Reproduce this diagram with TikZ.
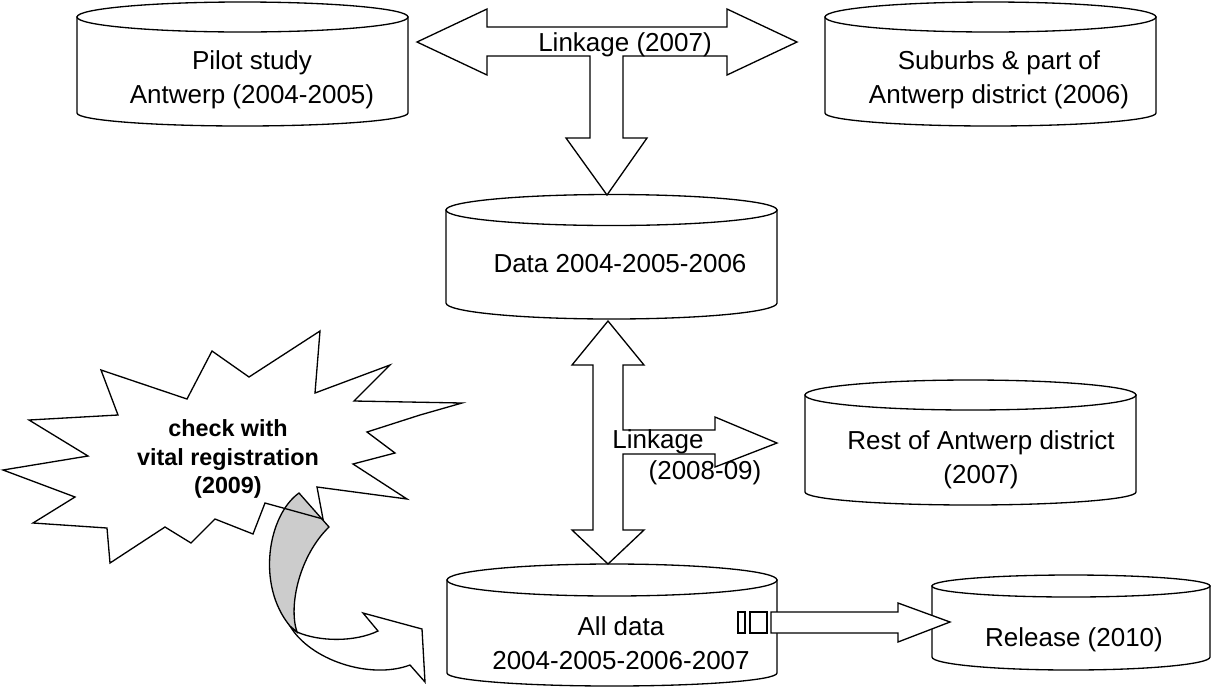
\documentclass[tikz,border=0pt]{standalone}
\usepackage{fontspec}
\setmainfont{Liberation Sans}
\newcommand\dbcyl[6]{% cx, rx, ct, ryt, cb, ryb
  \draw[cylbody] ({#1-#2},#3) -- ({#1-#2},#5) arc[start angle=180,end angle=0,x radius=#2,y radius=#6] -- ({#1+#2},#3) -- cycle;
  \draw[cylbody] (#1,#3) ellipse [x radius=#2, y radius=#4];
}
\begin{document}
\begin{tikzpicture}[x=0.02cm,y=-0.02cm, line width=0.75pt, line join=miter,
  cylbody/.style={draw=black, fill=white},
  lbl/.style={font=\fontsize{14.8}{19.3}\selectfont, align=center, inner sep=0pt},
  boldlbl/.style={font=\fontsize{13.3}{16.4}\selectfont\bfseries, align=center, inner sep=0pt},
  blockarrow/.style={draw=black, fill=white},
  ribbon/.style={draw=black, fill=black!20}]
\useasboundingbox (0,0) rectangle (1212,687);

% cylinders
\dbcyl{242.5}{165.5}{17}{15}{113}{13}
\dbcyl{990.5}{165.5}{17}{15}{113}{13}
\dbcyl{611.5}{165.5}{210}{15.5}{303}{16}
\dbcyl{970.5}{165.5}{395}{15}{492}{13}
\dbcyl{612}{165}{580}{16}{673}{13}
\dbcyl{1071}{139}{586}{11}{657}{13}

\node[lbl] (pilot) at (252,80) {Pilot study\\Antwerp (2004-2005)};
\node[lbl] (suburbs) at (999,80) {Suburbs \& part of\\Antwerp district (2006)};
\node[lbl] (data) at (620,264) {Data 2004-2005-2006};
\node[lbl] (rest) at (981,460) {Rest of Antwerp district\\(2007)};
\node[lbl] (alldata) at (621,643.5) {All data\\2004-2005-2006-2007};
\node[lbl] (release) at (1074,640) {Release (2010)};

% top linkage arrow
\draw[blockarrow] (417,42) -- (487,9) -- (487,27) -- (727,27) -- (727,9) -- (797,42)
  -- (727,75) -- (727,56) -- (623,56) -- (623,138) -- (647,138) -- (607,195)
  -- (566,138) -- (590,138) -- (590,56) -- (487,56) -- (487,75) -- cycle;
\node[lbl] (link1) at (625,45) {Linkage (2007)};

% middle linkage arrow
\draw[blockarrow] (608,321) -- (644,365) -- (623,365) -- (623,430) -- (715,430) -- (715,417)
  -- (777,443) -- (715,467) -- (715,454) -- (623,454) -- (623,530) -- (644,530)
  -- (608,564) -- (572,530) -- (593,530) -- (593,365) -- (572,365) -- cycle;
\node[lbl] (link2a) at (658,442) {Linkage};
\node[lbl] (link2b) at (705,473) {(2008-09)};

% release arrow
\draw[blockarrow] (738,612) rectangle (745,633);
\draw[blockarrow] (750,612) rectangle (767,633);
\draw[blockarrow] (771,612) -- (898,612) -- (898,603) -- (950,622) -- (898,642) -- (898,633) -- (771,633) -- cycle;

% explosion
\def\boom{(320,331) -- (315,393) -- (390,365) -- (354,401) -- (462,403) -- (420,415) -- (367,432)
  -- (395,453) -- (353,464) -- (407,499) -- (317,487) -- (323,519) -- (265,503) -- (253,534)
  -- (215,519) -- (191,543) -- (165,527) -- (110,563) -- (107,528) -- (33,523) -- (75,497)
  -- (3,470) -- (88,456) -- (29,420) -- (118,415) -- (101,370) -- (187,399) -- (212,351)
  -- (249,377) -- cycle}
\fill[white] \boom;

% curved arrow
\draw[blockarrow] (290,626) .. controls (310,660) and (370,680) .. (410,665) -- (425,682)
  -- (422,629) -- (363,613) -- (378,631) .. controls (355,642) and (320,642) .. (297,632) -- cycle;
\draw[ribbon] (299,493) .. controls (268,515) and (256,585) .. (290,626) -- (297,632)
  .. controls (288,605) and (300,555) .. (329,527) -- cycle;

\draw \boom;
\node[boldlbl] (check) at (228,459) {check with\\vital registration\\(2009)};
\end{tikzpicture}
\end{document}
